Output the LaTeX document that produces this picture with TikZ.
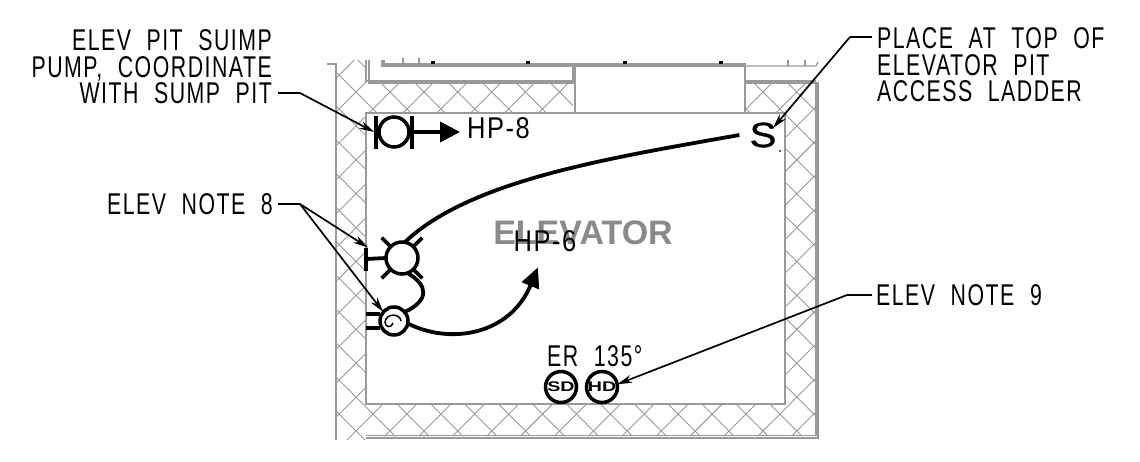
\documentclass[tikz,border=0pt]{standalone}
\usepackage{fontspec}
\usetikzlibrary{arrows.meta}
\newfontfamily\cadfont[FakeStretch=0.71,LetterSpace=5,WordSpace=2.1]{Liberation Sans}
\newfontfamily\cadwide[FakeStretch=0.85,LetterSpace=5]{Liberation Sans}
\newfontfamily\symfont[FakeStretch=1.15,FakeBold=1]{Liberation Sans}
\newfontfamily\bubblefont[FakeStretch=1.4]{Liberation Sans Bold}
\newfontfamily\roomfont{Liberation Sans Bold}
\definecolor{wallgray}{HTML}{999999}
\tikzset{
  wall/.style={draw=wallgray, line width=1.3pt},
  hatchline/.style={draw=wallgray, line width=.9pt},
  wire/.style={line width=3.8pt},
  leader/.style={line width=1.7pt},
  leadertip/.style={leader, -{Stealth[length=15pt,width=8pt]}},
  ring/.style={circle, draw, line width=3.5pt, inner sep=0pt, outer sep=0pt, fill=white},
  bar/.style={fill, inner sep=0pt, outer sep=0pt},
  note/.style={inner sep=0pt, font=\cadfont\fontsize{30}{26.5}\selectfont},
  tag/.style={inner sep=0pt, font=\cadwide\fontsize{30}{26.5}\selectfont}
}
\begin{document}
\begin{tikzpicture}[x=1pt,y=-1pt]
\useasboundingbox (0,0) rectangle (1140,461);
\begin{scope}[even odd rule]
\clip (336,60) -- (366,60) -- (366,82) -- (816,82) -- (816,436) -- (366,436) -- (366,440) -- (336,440) -- cycle
  (366,113) rectangle (785,404) (573,82) rectangle (745,113);
\foreach \k in {-3,...,23} {
  \pgfmathsetmacro{\c}{482+33.9*\k}
  \draw[hatchline] (\c-50,50) -- (\c-450,450);
}
\foreach \k in {-12,...,13} {
  \pgfmathsetmacro{\d}{298+33.9*\k}
  \draw[hatchline] (\d+50,50) -- (\d+450,450);
}
\end{scope}
\draw[wall] (327,64) -- (336,64) -- (336,440);
\draw[wall] (366,60) -- (366,81) -- (573,81) -- (573,66);
\draw[wall] (369,60) -- (369,83) -- (575,83);
\draw[wall] (575,66) -- (575,113);
\draw[wall] (382,60) -- (382,66) -- (745,66);
\draw[wall] (384,60) -- (384,64) -- (745,64) -- (745,113);
\draw[wall] (745,81) -- (816,81);
\draw[wall] (745,83) -- (815,83);
\draw[wall] (745,66) -- (816,66) -- (818,62);
\draw[wall] (366,113) -- (785,113) -- (785,404) -- (366,404) -- cycle;
\draw[wall] (816,82) -- (816,436);
\draw[wall] (818,82) -- (818,438) -- (366,438);
\draw[wall] (366,435.5) -- (816,435.5);
\draw[wall] (403,58) -- (403,64);
\draw[wall] (419,58) -- (419,64);
\draw[wall] (788,60) -- (788,66);
\draw[wall] (805,60) -- (805,66);
\node[bar, minimum width=4pt, minimum height=3pt] (post0) at (433,62){};
\node[bar, minimum width=4pt, minimum height=3pt] (post1) at (528,62){};
\node[bar, minimum width=4pt, minimum height=3pt] (post2) at (625,62){};
\node[bar, minimum width=4pt, minimum height=3pt] (post3) at (721,62){};
\node[text=wallgray!90!black, inner sep=0pt, font=\roomfont\fontsize{34}{34}\selectfont] (room) at (583,233){ELEVATOR};
\node[ring, minimum size=30pt] (pump) at (394,132){};
\node[bar, minimum width=3.5pt, minimum height=33pt] (pumpbarl) at (376,132){};
\node[bar, minimum width=3.5pt, minimum height=33pt] (pumpbarr) at (412,132){};
\node[tag, anchor=west, inner xsep=7pt] (hp8) at (460,128){HP-8};
\draw[wire, -{Triangle[length=20pt,width=20pt]}] (pumpbarr.east) -- (hp8.west|-pumpbarr.east);
\node[ring, minimum size=32pt] (light) at (402,258){};
\node[bar, minimum width=4pt, minimum height=23pt] (lightbar) at (366,259){};
\draw[wire] (lightbar) -- (light.west);
\draw[wire] (light.45) -- ++(9,-9);
\draw[wire] (light.135) -- ++(-9,-9);
\draw[wire] (light.225) -- ++(-9,9);
\draw[wire] (light.315) -- ++(9,9);
\node[ring, minimum size=28pt] (fan) at (394,321){};
\coordinate (fanwire0) at (366,314);
\coordinate (fanwire1) at (366,328);
\draw[wire] (fanwire0) -- (fan.west|-fanwire0);
\draw[wire] (fanwire1) -- (fan.west|-fanwire1);
\draw[line width=1.5pt] (401,321) .. controls (400,313) and (386,313) .. (385,322) .. controls (385,328) and (392,328) .. (393,323);
\node[inner xsep=10pt, inner ysep=0pt, font=\symfont\fontsize{35}{35}\selectfont] (switch) at (763,135){S};
\node[circle, fill, inner sep=0pt, minimum size=2pt] (switchdot) at (780,151){};
\node[tag, inner ysep=15.5pt] (hp6) at (545,241){HP-6};
\draw[wire] (light.80) .. controls (470,180) and (610,158) .. (switch.west);
\draw[wire] (light.-70) .. controls (428,285) and (430,300) .. (fan.40);
\draw[wire, -{Triangle[length=20pt,width=18pt]}] (fan.-10) .. controls (450,345) and (510,335) .. (hp6.-105);
\node[note, anchor=west] (er) at (547,356){ER 135°};
\node[ring, minimum size=31pt, font=\bubblefont\fontsize{14}{14}\selectfont] (sd) at (561,387){SD};
\node[ring, minimum size=31pt, font=\bubblefont\fontsize{14}{14}\selectfont] (hd) at (602,387){HD};
\node[note, anchor=east, align=right] (sumplabel) at (272,67){ELEV PIT SUIMP\\PUMP, COORDINATE\\WITH SUMP PIT};
\coordinate (sumpstart) at (278,93);
\coordinate (sumpbend) at (300,93);
\draw[leader] (sumpstart) -- (sumpbend);
\draw[leadertip] (sumpbend) -- (pumpbarl.west);
\node[note, anchor=west, align=left] (ladderlabel) at (877,65){PLACE AT TOP OF\\ELEVATOR PIT\\ACCESS LADDER};
\coordinate (ladderstart) at (872,37);
\coordinate (ladderbend) at (850,37);
\coordinate (laddertip) at (773,128);
\draw[leader] (ladderstart) -- (ladderbend);
\draw[leadertip] (ladderbend) -- (laddertip);
\node[note, anchor=east, inner xsep=5pt] (note8) at (278,204){ELEV NOTE 8};
\coordinate (note8bend) at (300,204);
\draw[leader] (note8) -- (note8bend);
\draw[leadertip] (note8bend) -- (lightbar.north east);
\draw[leadertip] (note8bend) -- (fan.140);
\node[note, anchor=west, inner xsep=4pt] (note9) at (872,295){ELEV NOTE 9};
\coordinate (note9bend) at (847,295);
\draw[leader] (note9) -- (note9bend);
\draw[leadertip] (note9bend) -- (hd.10);
\end{tikzpicture}
\end{document}
